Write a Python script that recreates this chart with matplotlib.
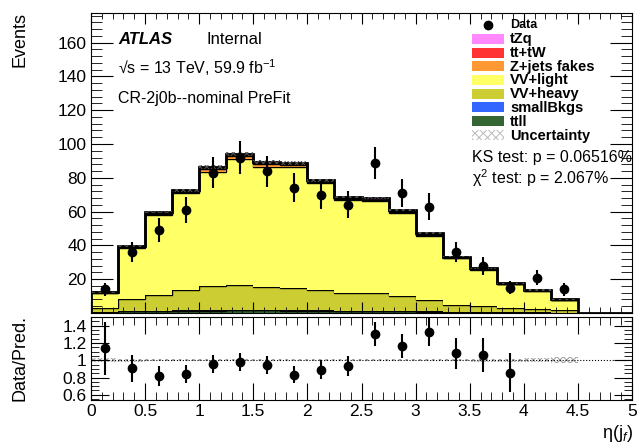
import numpy as np
import matplotlib.pyplot as plt
from matplotlib.patches import Rectangle
from matplotlib.lines import Line2D
from matplotlib.ticker import MultipleLocator, FixedLocator

plt.rcParams['font.family'] = ['Liberation Sans', 'DejaVu Sans']
plt.rcParams['mathtext.fontset'] = 'custom'
plt.rcParams['mathtext.rm'] = 'Liberation Sans'
plt.rcParams['mathtext.it'] = 'Liberation Sans:italic'
plt.rcParams['mathtext.bf'] = 'Liberation Sans:bold'
plt.rcParams['hatch.linewidth'] = 0.7

# eta(j_f) binning, 0.25 wide bins from 0 to 4.5
edges = np.linspace(0, 4.5, 19)
data = np.array([14, 36, 49, 61, 83, 92, 84, 74, 70, 64, 89, 71, 63, 36, 28, 15, 21, 14])

# stacked backgrounds, bottom to top
ttll = np.array([0.6, 1.0, 1.2, 1.3, 1.4, 1.5, 1.5, 1.4, 1.3, 1.2, 1.1, 1.0, 0.8, 0.6, 0.5, 0.4, 0.3, 0.2])
small_bkgs = np.array([0.1, 0.2, 0.2, 0.3, 0.3, 0.3, 0.3, 0.3, 0.2, 0.2, 0.2, 0.2, 0.1, 0.1, 0.1, 0.1, 0.05, 0.05])
vv_heavy = np.array([2.0, 6.8, 9.5, 11.9, 14.2, 14.9, 13.7, 13.2, 12.0, 10.3, 10.4, 8.7, 6.9, 3.9, 3.4, 2.6, 1.75, 1.25])
vv_light = np.array([9.2, 30.7, 47.2, 57.4, 67.8, 74.6, 71.1, 71.3, 63.3, 55.0, 54.3, 49.5, 37.8, 27.8, 21.5, 13.8, 11.0, 6.25])
zjets = np.array([0.2, 0.5, 0.6, 0.6, 1.5, 1.6, 1.6, 1.5, 0.6, 0.8, 0.7, 0.4, 0.6, 0.3, 0.3, 0.2, 0.2, 0.1])
tt_tw = np.array([0.1, 0.3, 0.6, 0.7, 0.6, 0.5, 0.5, 0.5, 0.5, 0.4, 0.4, 0.3, 0.3, 0.2, 0.2, 0.1, 0.1, 0.05])
tzq = np.array([0.1, 0.3, 0.4, 0.5, 0.6, 0.6, 0.6, 0.6, 0.6, 0.8, 0.9, 0.9, 0.9, 0.5, 0.4, 0.3, 0.2, 0.1])
unc = np.array([0.3, 0.6, 0.8, 0.9, 1.0, 1.1, 1.0, 1.0, 0.9, 0.8, 0.8, 0.7, 0.6, 0.4, 0.4, 0.3, 0.35, 0.3])

samples = [('ttll', ttll, '#336633'),
           ('smallBkgs', small_bkgs, '#3366ff'),
           ('VV+heavy', vv_heavy, '#cccc33'),
           ('VV+light', vv_light, '#ffff66'),
           ('Z+jets fakes', zjets, '#ff9933'),
           ('tt+tW', tt_tw, '#ff3333'),
           ('tZq', tzq, '#ff88ff')]

W, H = 642, 448
fig = plt.figure(figsize=(W / 100, H / 100), dpi=100)


def fx(px):
    return px / W


def fy(py):
    return 1 - py / H


ax = fig.add_axes([fx(91), fy(313), fx(632) - fx(91), fy(13) - fy(313)])
rax = fig.add_axes([fx(91), fy(400), fx(632) - fx(91), fy(317) - fy(400)])

bottom = np.zeros(len(data))
for name, vals, col in samples:
    top = bottom + vals
    ax.stairs(top, edges, baseline=bottom, fill=True, color=col, lw=0)
    ax.stairs(top, edges, baseline=None, color='k', lw=1)
    bottom = top
total = bottom

ax.stairs(total, edges, baseline=0, color='k', lw=2)
ax.stairs(total + unc, edges, baseline=total - unc, fill=True, facecolor='none',
          edgecolor='#555555', hatch='xxxxx', lw=0)
ax.plot([4.5, 5], [0, 0], color='k', lw=2)

centers = 0.5 * (edges[1:] + edges[:-1])
ax.errorbar(centers, data, yerr=np.sqrt(data), fmt='o', color='k', ms=6,
            elinewidth=1.5, capsize=0)

ax.set_xlim(0, 5)
ax.set_ylim(0.01, 177.5)
ax.yaxis.set_major_locator(FixedLocator(np.arange(20, 161, 20)))
ax.yaxis.set_minor_locator(MultipleLocator(4))
ax.xaxis.set_major_locator(MultipleLocator(0.5))
ax.xaxis.set_minor_locator(MultipleLocator(0.1))
ax.tick_params(which='both', direction='in', top=True, right=True, labelsize=12.5)
ax.tick_params(axis='y', which='major', length=16, pad=3)
ax.tick_params(axis='y', which='minor', length=8)
ax.tick_params(axis='x', which='major', length=8)
ax.tick_params(axis='x', which='minor', length=4)
ax.tick_params(axis='x', labelbottom=False)

# ratio panel
ratio = data / total
rerr = np.sqrt(data) / total
ok = ratio < 1.5
rax.stairs(1 + unc / total, edges, baseline=1 - unc / total, fill=True,
           facecolor='none', edgecolor='#999999', hatch='xxxxx', lw=0)
rax.axhline(1, color='k', ls=':', lw=0.8)
rax.errorbar(centers[ok], ratio[ok], yerr=rerr[ok], fmt='o', color='k', ms=6,
             elinewidth=1.5, capsize=0)
rax.set_xlim(0, 5)
rax.set_ylim(0.54, 1.5)
rax.yaxis.set_major_locator(FixedLocator([0.6, 0.8, 1.0, 1.2, 1.4]))
rax.yaxis.set_major_formatter(plt.FuncFormatter(lambda v, p: '%g' % v))
rax.yaxis.set_minor_locator(MultipleLocator(0.05))
rax.xaxis.set_major_locator(MultipleLocator(0.5))
rax.xaxis.set_major_formatter(plt.FuncFormatter(lambda v, p: '%g' % v))
rax.xaxis.set_minor_locator(MultipleLocator(0.1))
rax.tick_params(which='both', direction='in', top=True, right=True, labelsize=12.5)
rax.tick_params(axis='y', which='major', length=13, pad=3)
rax.tick_params(axis='y', which='minor', length=6)
rax.tick_params(axis='x', which='major', length=12, pad=3)
rax.tick_params(axis='x', which='minor', length=6)

# axis titles
fig.text(fx(20), fy(12), 'Events', rotation=90, ha='center', va='top', fontsize=13)
fig.text(fx(20), fy(358), 'Data/Pred.', rotation=90, ha='center', va='center', fontsize=13)
fig.text(fx(633), fy(433), 'η(j$_f$)', ha='right', va='center', fontsize=13)

# labels top left
fig.text(fx(118), fy(40), 'ATLAS', fontsize=12, fontweight='bold', fontstyle='italic', va='center')
fig.text(fx(207), fy(40), 'Internal', fontsize=12, va='center')
fig.text(fx(118), fy(68), '√s = 13 TeV, 59.9 fb$^{-1}$', fontsize=11.5, va='center')
fig.text(fx(118), fy(99), 'CR-2j0b--nominal PreFit', fontsize=11.5, va='center')

# legend drawn by hand, ROOT style
rows = [39.5, 53, 66.5, 80, 94, 107.5, 121.5]
fig.add_artist(Line2D([fx(488)], [fy(25)], marker='o', color='k', ms=6, transform=fig.transFigure))
fig.text(fx(510), fy(25), 'Data', fontsize=9, fontweight='bold', va='center')
for (name, vals, col), r in zip(samples[::-1], rows):
    fig.add_artist(Rectangle((fx(472), fy(r + 5)), fx(32), 10 / H, transform=fig.transFigure,
                             facecolor=col, edgecolor='none'))
    fig.text(fx(510), fy(r), name, fontsize=10.5, fontweight='bold', va='center')
fig.add_artist(Rectangle((fx(472), fy(140.5)), fx(32), 10 / H, transform=fig.transFigure,
                         facecolor='none', edgecolor='#bbbbbb', hatch='xxxx', lw=0))
fig.text(fx(510), fy(135.5), 'Uncertainty', fontsize=10.5, fontweight='bold', va='center')

fig.text(fx(472), fy(157), 'KS test: p = 0.06516%', fontsize=11.5, va='center')
fig.text(fx(472), fy(178), 'χ$^2$ test: p = 2.067%', fontsize=11.5, va='center')

fig.savefig('out.png', dpi=100)
